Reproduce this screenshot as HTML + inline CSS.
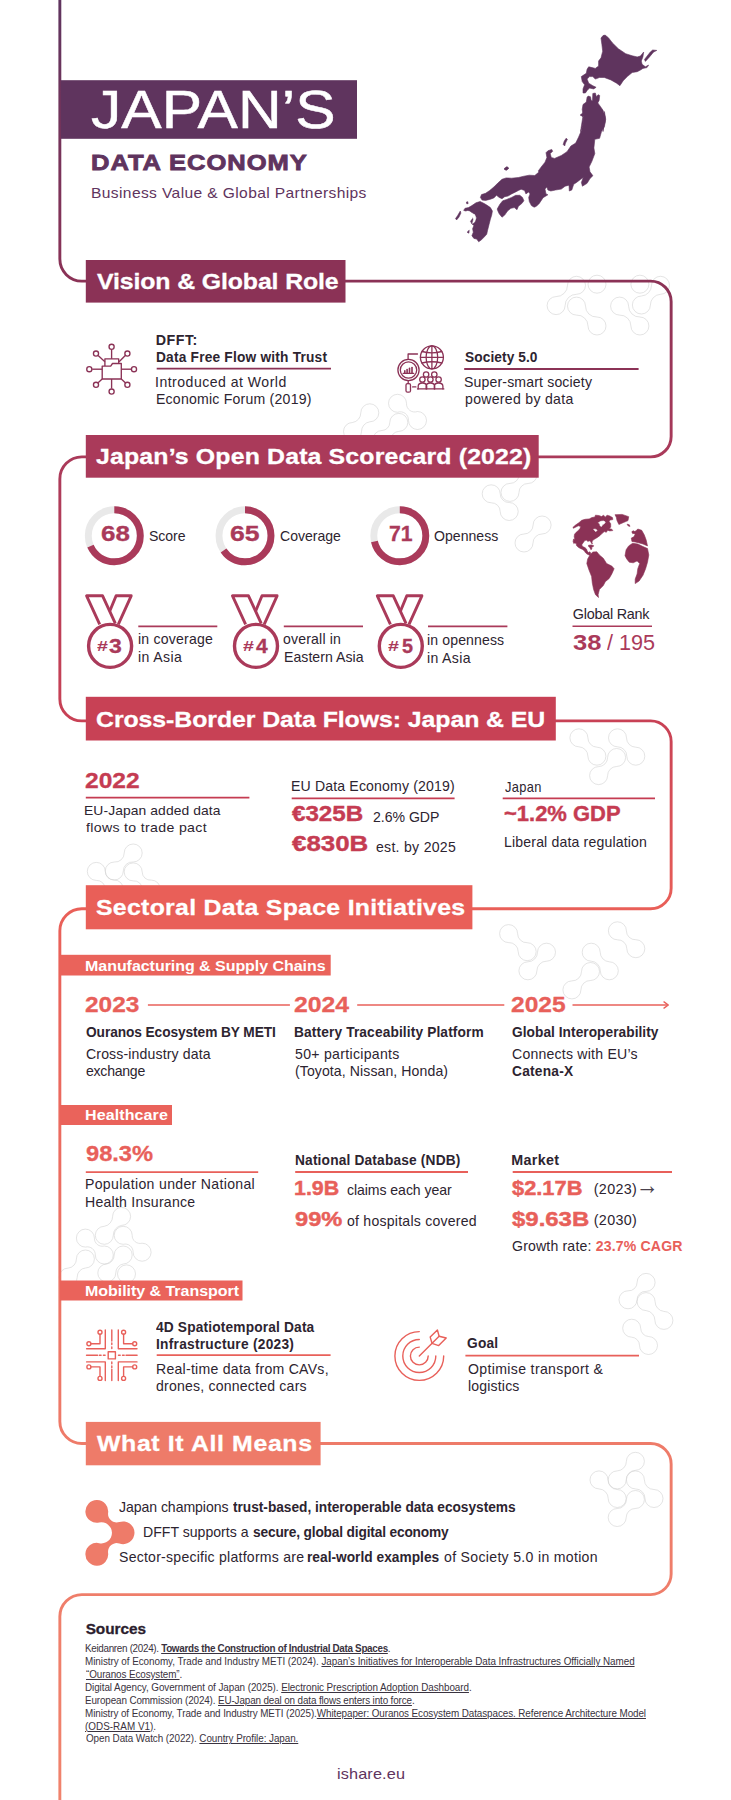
<!DOCTYPE html>
<html lang="en"><head><meta charset="utf-8">
<title>Japan’s Data Economy</title>
<style>
html,body{margin:0;padding:0;background:#fff;}
body{width:731px;height:1800px;position:relative;overflow:hidden;font-family:"Liberation Sans", sans-serif;}
#gfx{position:absolute;left:0;top:0;width:731px;height:1800px;}
.t{position:absolute;transform-origin:0 0;margin:0;padding:0;white-space:nowrap;line-height:1em;font-weight:400;}
.t b{font-weight:700;}
.t u{text-decoration-thickness:0.7px;text-underline-offset:1.2px;}
</style></head><body>
<svg id="gfx" viewBox="0 0 731 1800" width="731" height="1800">
<path d="M567.5,285.3 A11.3,11.3 0 0 1 556.1,296.6 A9.0,9.0 0 1 0 565.1,305.6 A11.3,11.3 0 0 1 576.5,294.3 A9.0,9.0 0 1 0 567.5,285.3Z M585.5,306.1 A10.9,10.9 0 0 0 597.0,317.0 A9.0,9.0 0 1 1 588.0,326.0 A10.9,10.9 0 0 0 576.5,315.1 A9.0,9.0 0 1 1 585.5,306.1Z M588.0,284.2 a9,9 0 1 0 18,0 a9,9 0 1 0 -18,0Z M628.6,306.1 A10.9,10.9 0 0 0 639.9,317.0 A9.0,9.0 0 1 1 630.9,326.0 A10.9,10.9 0 0 0 619.6,315.1 A9.0,9.0 0 1 1 628.6,306.1Z M630.9,284.2 a9,9 0 1 0 18,0 a9,9 0 1 0 -18,0Z M651.5,285.3 A10.7,10.7 0 0 1 641.4,296.0 A9.0,9.0 0 1 0 650.4,305.0 A10.7,10.7 0 0 1 660.5,294.3 A9.0,9.0 0 1 0 651.5,285.3Z M360.8,412.8 A9.7,9.7 0 0 1 352.5,422.5 A9.0,9.0 0 1 0 361.5,431.5 A9.7,9.7 0 0 1 369.8,421.8 A9.0,9.0 0 1 0 360.8,412.8Z M406.5,403.3 A8.2,8.2 0 0 0 417.5,411.5 A9.0,9.0 0 1 1 408.5,420.5 A8.2,8.2 0 0 0 397.5,412.3 A9.0,9.0 0 1 1 406.5,403.3Z M389.8,422.4 A8.1,8.1 0 0 1 382.0,430.5 A9.0,9.0 0 1 0 391.0,439.5 A8.1,8.1 0 0 1 398.8,431.4 A9.0,9.0 0 1 0 389.8,422.4Z M500.2,493.8 A8.7,8.7 0 0 0 509.2,502.5 A9.0,9.0 0 1 1 500.2,511.5 A8.7,8.7 0 0 0 491.2,502.8 A9.0,9.0 0 1 1 500.2,493.8Z M519.1,474.5 A8.9,8.9 0 0 1 510.0,483.4 A9.0,9.0 0 1 0 519.0,492.4 A8.9,8.9 0 0 1 528.1,483.5 A9.0,9.0 0 1 0 519.1,474.5Z M533.1,525.0 A9.0,9.0 0 0 1 524.0,534.0 A9.0,9.0 0 1 0 533.0,543.0 A9.0,9.0 0 0 1 542.1,534.0 A9.0,9.0 0 1 0 533.1,525.0Z M587.9,737.8 A9.4,9.4 0 0 0 596.9,747.2 A9.0,9.0 0 1 1 587.9,756.2 A9.4,9.4 0 0 0 578.9,746.8 A9.0,9.0 0 1 1 587.9,737.8Z M626.5,737.8 A9.4,9.4 0 0 0 635.8,747.2 A9.0,9.0 0 1 1 626.8,756.2 A9.4,9.4 0 0 0 617.5,746.8 A9.0,9.0 0 1 1 626.5,737.8Z M607.6,757.5 A9.1,9.1 0 0 1 598.6,766.6 A9.0,9.0 0 1 0 607.6,775.6 A9.1,9.1 0 0 1 616.6,766.5 A9.0,9.0 0 1 0 607.6,757.5Z M124.2,853.0 A9.0,9.0 0 0 1 114.3,862.0 A9.0,9.0 0 1 0 123.3,871.0 A9.0,9.0 0 0 1 133.2,862.0 A9.0,9.0 0 1 0 124.2,853.0Z M105.3,871.4 A8.6,8.6 0 0 0 114.3,880.0 A9.0,9.0 0 1 1 105.3,889.0 A8.6,8.6 0 0 0 96.3,880.4 A9.0,9.0 0 1 1 105.3,871.4Z M142.2,871.9 A8.2,8.2 0 0 0 151.3,880.1 A9.0,9.0 0 1 1 142.3,889.1 A8.2,8.2 0 0 0 133.2,880.9 A9.0,9.0 0 1 1 142.2,871.9Z M517.6,933.6 A9.1,9.1 0 0 0 527.2,942.7 A9.0,9.0 0 1 1 518.2,951.7 A9.1,9.1 0 0 0 508.6,942.6 A9.0,9.0 0 1 1 517.6,933.6Z M537.5,952.2 A9.6,9.6 0 0 1 527.9,961.8 A9.0,9.0 0 1 0 536.9,970.8 A9.6,9.6 0 0 1 546.5,961.2 A9.0,9.0 0 1 0 537.5,952.2Z M600.2,952.2 A9.6,9.6 0 0 0 609.3,961.8 A9.0,9.0 0 1 1 600.3,970.8 A9.6,9.6 0 0 0 591.2,961.2 A9.0,9.0 0 1 1 600.2,952.2Z M581.5,971.5 A9.4,9.4 0 0 1 571.9,980.9 A9.0,9.0 0 1 0 580.9,989.9 A9.4,9.4 0 0 1 590.5,980.5 A9.0,9.0 0 1 0 581.5,971.5Z M626.4,930.8 A8.9,8.9 0 0 0 635.8,939.7 A9.0,9.0 0 1 1 626.8,948.7 A8.9,8.9 0 0 0 617.4,939.8 A9.0,9.0 0 1 1 626.4,930.8Z M112.6,1216.4 A9.9,9.9 0 0 1 104.3,1226.3 A9.0,9.0 0 1 0 113.3,1235.3 A9.9,9.9 0 0 1 121.6,1225.4 A9.0,9.0 0 1 0 112.6,1216.4Z M94.4,1238.1 A7.9,7.9 0 0 0 104.3,1246.0 A9.0,9.0 0 1 1 95.3,1255.0 A7.9,7.9 0 0 0 85.4,1247.1 A9.0,9.0 0 1 1 94.4,1238.1Z M132.2,1235.3 A7.9,7.9 0 0 0 142.1,1243.2 A9.0,9.0 0 1 1 133.1,1252.2 A7.9,7.9 0 0 0 123.2,1244.3 A9.0,9.0 0 1 1 132.2,1235.3Z M114.2,1255.0 A9.0,9.0 0 0 1 106.8,1264.0 A9.0,9.0 0 1 0 115.8,1273.0 A9.0,9.0 0 0 1 123.2,1264.0 A9.0,9.0 0 1 0 114.2,1255.0Z M76.4,1259.0 A9.1,9.1 0 0 1 68.2,1268.1 A9.0,9.0 0 1 0 77.2,1277.1 A9.1,9.1 0 0 1 85.4,1268.0 A9.0,9.0 0 1 0 76.4,1259.0Z M117.5,1273.9 a9,9 0 1 0 18,0 a9,9 0 1 0 -18,0Z M637.1,1282.4 A8.4,8.4 0 0 1 628.0,1290.8 A9.0,9.0 0 1 0 637.0,1299.8 A8.4,8.4 0 0 1 646.1,1291.4 A9.0,9.0 0 1 0 637.1,1282.4Z M655.1,1301.6 A9.8,9.8 0 0 0 663.9,1311.4 A9.0,9.0 0 1 1 654.9,1320.4 A9.8,9.8 0 0 0 646.1,1310.6 A9.0,9.0 0 1 1 655.1,1301.6Z M640.7,1328.2 A8.3,8.3 0 0 0 648.5,1336.5 A9.0,9.0 0 1 1 639.5,1345.5 A8.3,8.3 0 0 0 631.7,1337.2 A9.0,9.0 0 1 1 640.7,1328.2Z M626.4,1461.3 A9.6,9.6 0 0 1 617.2,1470.9 A9.0,9.0 0 1 0 626.2,1479.9 A9.6,9.6 0 0 1 635.4,1470.3 A9.0,9.0 0 1 0 626.4,1461.3Z M608.0,1479.9 A9.6,9.6 0 0 0 617.2,1489.5 A9.0,9.0 0 1 1 608.2,1498.5 A9.6,9.6 0 0 0 599.0,1488.9 A9.0,9.0 0 1 1 608.0,1479.9Z M644.4,1479.9 A9.6,9.6 0 0 0 654.0,1489.5 A9.0,9.0 0 1 1 645.0,1498.5 A9.6,9.6 0 0 0 635.4,1488.9 A9.0,9.0 0 1 1 644.4,1479.9Z M626.4,1499.5 A9.0,9.0 0 0 1 617.2,1508.5 A9.0,9.0 0 1 0 626.2,1517.5 A9.0,9.0 0 0 1 635.4,1508.5 A9.0,9.0 0 1 0 626.4,1499.5Z" fill="none" stroke="#d2d2d2" stroke-width="0.6"/>
<defs><linearGradient id="sg" gradientUnits="userSpaceOnUse" x1="0" y1="0" x2="0" y2="1800"><stop offset="0" stop-color="#5f345e"/><stop offset="0.156" stop-color="#8b3256"/><stop offset="0.253" stop-color="#aa3a5a"/><stop offset="0.40" stop-color="#c84155"/><stop offset="0.504" stop-color="#e95f58"/><stop offset="0.80" stop-color="#ee7b69"/><stop offset="1" stop-color="#f0826c"/></linearGradient></defs>
<path d="M59.85,-5 V259.1 A22,22 0 0 0 81.85,281.1 H650.65 A20.5,20.5 0 0 1 671.15,301.6 V436.4 A20.5,20.5 0 0 1 650.65,456.9 H81.85 A22,22 0 0 0 59.85,478.9 V698.9 A22,22 0 0 0 81.85,720.9 H650.65 A20.5,20.5 0 0 1 671.15,741.4 V888.3 A20.5,20.5 0 0 1 650.65,908.8 H81.85 A22,22 0 0 0 59.85,930.8 V1421.5 A22,22 0 0 0 81.85,1443.5 H650.65 A20.5,20.5 0 0 1 671.15,1464.0 V1574.1 A20.5,20.5 0 0 1 650.65,1594.6 H81.85 A22,22 0 0 0 59.85,1616.6 V1810" fill="none" stroke="url(#sg)" stroke-width="2.9"/>
<rect x="61" y="80.2" width="296.0" height="58.6" fill="#5f345e"/>
<rect x="85.8" y="260" width="259.7" height="42.6" fill="#8b3256"/>
<rect x="85.8" y="435" width="452.9" height="42.7" fill="#aa3a5a"/>
<rect x="85.8" y="696.8" width="470.0" height="43.7" fill="#c84155"/>
<rect x="85.8" y="885.2" width="386.6" height="44.1" fill="#e95f58"/>
<rect x="85.8" y="1421.9" width="234.8" height="43.4" fill="#ee7b69"/>
<rect x="60" y="954.8" width="270.7" height="20.7" fill="#ea635b"/>
<rect x="60" y="1105" width="112.0" height="20.0" fill="#ea635b"/>
<rect x="60" y="1280.5" width="182.5" height="20.0" fill="#ea635b"/>
<path d="M605.1,35.1 L608.4,37.7 L612.5,43.0 L618.3,48.7 L625.7,53.7 L632.2,55.8 L637.2,56.9 L640.4,56.1 L643.7,52.0 L642.9,56.9 L641.3,61.0 L642.1,64.3 L645.4,66.8 L648.6,65.1 L647.0,67.6 L642.9,68.4 L640.4,70.1 L637.2,71.7 L632.2,72.5 L627.3,76.6 L623.2,80.7 L619.9,85.7 L616.6,83.2 L610.9,79.9 L604.3,77.5 L599.4,77.5 L595.3,79.1 L592.8,76.6 L589.5,76.6 L587.1,79.1 L588.7,83.2 L592.8,85.7 L596.1,87.3 L593.7,88.9 L589.5,88.1 L587.1,90.6 L585.4,93.0 L583.0,93.0 L583.0,88.9 L584.6,84.8 L582.2,81.6 L581.3,76.6 L586.3,73.3 L587.1,69.2 L588.7,66.8 L592.0,67.6 L595.3,68.4 L598.6,66.0 L598.6,61.0 L601.0,57.8 L602.7,51.2 L601.9,44.6 L601.0,38.1 L603.0,35.6Z" fill="#5f345e" stroke="#5f345e" stroke-width="0.6" stroke-linejoin="round"/>
<path d="M644.5,59.4 L650.3,52.0 L652.7,50.0 L656.8,50.4 L653.6,52.0 L649.5,56.9 L645.4,61.4Z" fill="#5f345e" stroke="#5f345e" stroke-width="0.6" stroke-linejoin="round"/>
<path d="M592.8,93.5 L595.3,93.0 L596.4,96.8 L598.1,94.7 L599.7,95.5 L599.1,100.4 L597.8,102.9 L600.2,106.2 L603.0,110.3 L605.1,116.8 L605.3,121.8 L603.7,126.7 L603.0,131.6 L604.4,111.5 L605.7,119.2 L604.4,126.8 L601.5,131.6 L599.6,138.3 L594.8,139.3 L593.9,147.9 L594.8,153.6 L591.9,161.3 L589.1,167.0 L590.0,171.8 L592.9,175.7 L590.0,178.5 L587.1,183.3 L582.4,186.2 L581.4,182.4 L583.3,177.6 L580.4,179.5 L576.6,182.4 L573.7,184.3 L571.8,190.0 L569.3,191.0 L569.0,185.2 L565.1,186.2 L561.3,189.1 L555.5,190.0 L550.8,191.0 L547.9,190.0 L546.9,187.1 L545.0,189.1 L546.0,193.9 L547.9,194.8 L543.1,197.7 L539.3,203.4 L536.4,206.3 L534.1,207.2 L531.4,205.6 L529.3,201.5 L528.7,197.4 L530.0,193.9 L528.7,191.9 L525.9,193.9 L524.6,190.5 L521.1,189.2 L518.4,190.5 L515.7,191.9 L511.6,193.9 L508.1,196.0 L504.7,196.7 L502.0,198.7 L499.2,197.4 L496.5,195.3 L493.8,198.0 L489.7,199.4 L485.6,200.4 L482.1,200.1 L480.4,197.4 L481.5,194.6 L485.6,193.3 L489.7,190.5 L493.8,187.1 L497.9,183.0 L502.0,179.3 L506.1,177.9 L511.6,178.2 L518.4,177.5 L523.9,176.2 L529.3,175.2 L534.8,175.5 L538.9,172.1 L538.3,170.9 L541.2,167.0 L545.0,162.2 L546.9,157.5 L546.0,152.7 L547.9,150.8 L551.7,149.4 L552.7,151.3 L550.2,153.6 L551.3,157.5 L554.6,158.4 L561.3,155.5 L567.0,151.7 L570.9,146.0 L575.7,143.1 L578.5,137.3 L581.4,130.6 L583.3,123.0 L583.9,117.2 L580.4,114.9 L582.7,113.0 L584.3,107.7 L580.5,131.6 L583.0,125.1 L583.8,116.8 L580.5,115.2 L583.0,113.6 L582.2,109.5 L583.0,104.5 L586.3,102.1 L587.1,97.2 L588.2,96.0 L590.5,96.8 L591.2,100.4 L592.5,100.8Z" fill="#5f345e" stroke="#5f345e" stroke-width="0.6" stroke-linejoin="round"/>
<path d="M497.2,209.0 L499.9,204.2 L502.7,200.8 L506.8,199.4 L511.6,197.4 L515.7,195.3 L519.8,195.3 L522.5,197.4 L523.9,200.8 L521.8,203.5 L518.4,206.3 L517.0,209.7 L514.3,207.6 L510.9,208.3 L507.5,211.0 L504.7,215.1 L502.0,217.2 L499.2,213.8 L497.9,211.0Z" fill="#5f345e" stroke="#5f345e" stroke-width="0.6" stroke-linejoin="round"/>
<path d="M476.0,202.8 L480.1,201.5 L484.2,203.5 L487.6,205.6 L490.4,207.6 L492.4,211.0 L491.7,215.1 L490.4,219.2 L489.0,224.7 L487.6,230.2 L486.7,234.3 L484.2,237.0 L481.5,239.8 L478.7,241.8 L476.7,239.1 L473.9,238.4 L471.9,235.7 L473.3,232.2 L472.6,228.8 L473.9,225.4 L471.9,224.0 L470.5,221.3 L472.6,218.6 L473.9,215.8 L472.6,213.1 L469.8,211.0 L467.8,210.4 L465.7,211.0 L463.7,210.4 L465.0,208.3 L468.5,207.6 L471.9,205.6Z" fill="#5f345e" stroke="#5f345e" stroke-width="0.6" stroke-linejoin="round"/>
<path d="M471.9,213.5 L474.6,214.5 L476.0,217.9 L474.6,222.0 L472.6,223.4 L473.5,219.2 L472.6,216.5Z" fill="#fff" stroke="#fff" stroke-width="0.6" stroke-linejoin="round"/>
<path d="M455.5,218.6 L457.5,215.8 L460.3,211.0 L460.9,213.1 L458.9,217.2 L456.6,219.9Z" fill="#5f345e" stroke="#5f345e" stroke-width="0.6" stroke-linejoin="round"/>
<path d="M466.4,202.1 L467.8,201.7 L468.1,203.7 L466.7,203.7Z" fill="#5f345e" stroke="#5f345e" stroke-width="0.6" stroke-linejoin="round"/>
<path d="M467.1,232.2 L469.2,230.2 L468.9,233.2Z" fill="#5f345e" stroke="#5f345e" stroke-width="0.6" stroke-linejoin="round"/>
<path d="M504.2,169.2 L507.0,166.9 L508.6,168.2 L506.1,170.3Z" fill="#5f345e" stroke="#5f345e" stroke-width="0.6" stroke-linejoin="round"/>
<path d="M564.2,141.2 L566.1,138.3 L567.4,139.3 L565.5,143.1 L564.7,146.0 L563.2,144.4Z" fill="#5f345e" stroke="#5f345e" stroke-width="0.6" stroke-linejoin="round"/>
<path d="M504.2,168.6 L506.9,166.7 L508.6,168.0 L506.7,170.1Z" fill="#5f345e" stroke="#5f345e" stroke-width="0.6" stroke-linejoin="round"/>
<line x1="156.7" y1="368.7" x2="331" y2="368.7" stroke="#8b3256" stroke-width="1.8"/>
<line x1="464.2" y1="369.0" x2="638.6" y2="369.0" stroke="#8b3256" stroke-width="1.8"/>
<g fill="none" stroke="#8b3256" stroke-width="1.35" stroke-linejoin="round"><circle cx="111.6" cy="346.8" r="2.55"/><circle cx="111.6" cy="391.5" r="2.55"/><circle cx="89.3" cy="369.2" r="2.55"/><circle cx="134.0" cy="369.2" r="2.55"/><circle cx="96.0" cy="353.5" r="2.55"/><circle cx="127.4" cy="353.5" r="2.55"/><circle cx="96.0" cy="384.8" r="2.55"/><circle cx="127.4" cy="384.8" r="2.55"/><line x1="111.6" y1="349.7" x2="111.6" y2="358.8"/><line x1="111.6" y1="379.0" x2="111.6" y2="388.6"/><line x1="92.2" y1="369.2" x2="102.2" y2="369.2"/><line x1="121.3" y1="369.2" x2="131.1" y2="369.2"/><line x1="98.1" y1="355.5" x2="104.9" y2="361.7"/><line x1="125.3" y1="355.5" x2="119.1" y2="361.7"/><line x1="98.1" y1="382.8" x2="102.2" y2="379.0"/><line x1="125.3" y1="382.8" x2="121.3" y2="379.0"/><path d="M102.2,366.1 L110.7,366.1 L112.5,363.5 L121.3,363.5 L121.3,379.0 L102.2,379.0Z"/><path d="M104.9,366.1 L104.9,358.8 L118.7,358.8 L118.7,363.5"/></g>
<g fill="none" stroke="#8b3256" stroke-width="1.3" stroke-linecap="round" stroke-linejoin="round"><circle cx="431.9" cy="357.3" r="11.5"/><ellipse cx="431.9" cy="357.3" rx="5.8" ry="11.5"/><line x1="431.9" y1="345.8" x2="431.9" y2="368.8"/><line x1="420.4" y1="357.3" x2="443.4" y2="357.3"/><path d="M422.0,351.5 Q431.9,354.1 441.8,351.5"/><path d="M422.0,363.0 Q431.9,360.5 441.8,363.0"/><circle cx="408.5" cy="370.0" r="10.6"/><circle cx="408.5" cy="370.0" r="8.2"/><rect x="406.0" y="383.6" width="4.5" height="8.6" rx="1.5"/><line x1="408.2" y1="380.7" x2="408.2" y2="383.6"/><path d="M408.1,359.2 L408.1,354.0 L417.5,354.0"/><line x1="412.6" y1="386.9" x2="415.9" y2="386.9"/><line x1="403.1" y1="373.3" x2="413.8" y2="373.3"/><line x1="404.8" y1="370.8" x2="404.8" y2="372.9" stroke-width="1.6"/><line x1="407.1" y1="369.6" x2="407.1" y2="372.9" stroke-width="1.6"/><line x1="409.5" y1="368.4" x2="409.5" y2="372.9" stroke-width="1.6"/><line x1="412.0" y1="367.6" x2="412.0" y2="372.9" stroke-width="1.6"/><circle cx="426.1" cy="374.5" r="2.7"/><circle cx="434.3" cy="374.5" r="2.7"/><circle cx="422.4" cy="379.5" r="2.7"/><path d="M418.2,388.9 V386.2 Q418.2,383.0 422.4,383.0 Q426.7,383.0 426.7,386.2 V388.9"/><circle cx="430.4" cy="379.5" r="2.7"/><path d="M426.1,388.9 V386.2 Q426.1,383.0 430.4,383.0 Q434.7,383.0 434.7,386.2 V388.9"/><circle cx="438.6" cy="379.5" r="2.7"/><path d="M434.3,388.9 V386.2 Q434.3,383.0 438.6,383.0 Q442.9,383.0 442.9,386.2 V388.9"/><line x1="417.5" y1="388.9" x2="443.8" y2="388.9"/></g>
<circle cx="114.3" cy="535.8" r="26.0" fill="none" stroke="#e9e9e9" stroke-width="6.9"/>
<circle cx="114.3" cy="535.8" r="26.0" fill="none" stroke="#aa3a5a" stroke-width="6.9" stroke-dasharray="111.09 163.36" transform="rotate(-90 114.3 535.8)"/>
<circle cx="245.0" cy="535.8" r="26.0" fill="none" stroke="#e9e9e9" stroke-width="6.9"/>
<circle cx="245.0" cy="535.8" r="26.0" fill="none" stroke="#aa3a5a" stroke-width="6.9" stroke-dasharray="106.19 163.36" transform="rotate(-90 245.0 535.8)"/>
<circle cx="399.8" cy="535.8" r="26.0" fill="none" stroke="#e9e9e9" stroke-width="6.9"/>
<circle cx="399.8" cy="535.8" r="26.0" fill="none" stroke="#aa3a5a" stroke-width="6.9" stroke-dasharray="115.99 163.36" transform="rotate(-90 399.8 535.8)"/>
<g fill="none" stroke="#aa3a5a" stroke-width="2.9" stroke-linejoin="round"><path d="M99.7,624.3 L86.6,595.8 L102.6,595.8 L115.3,623.3"/><path d="M109.7,611.2 L116.1,595.8 L131.2,595.8 L118.3,624.3"/><circle cx="110.1" cy="645.9" r="21.5" stroke-width="3.4" fill="#fff"/></g>
<line x1="138.3" y1="626.4" x2="217.3" y2="626.4" stroke="#aa3a5a" stroke-width="1.9"/>
<g fill="none" stroke="#aa3a5a" stroke-width="2.9" stroke-linejoin="round"><path d="M245.6,624.3 L232.5,595.8 L248.5,595.8 L261.2,623.3"/><path d="M255.6,611.2 L262.0,595.8 L277.1,595.8 L264.2,624.3"/><circle cx="256.0" cy="645.9" r="21.5" stroke-width="3.4" fill="#fff"/></g>
<line x1="283.8" y1="626.4" x2="363" y2="626.4" stroke="#aa3a5a" stroke-width="1.9"/>
<g fill="none" stroke="#aa3a5a" stroke-width="2.9" stroke-linejoin="round"><path d="M390.4,624.3 L377.3,595.8 L393.3,595.8 L406.0,623.3"/><path d="M400.4,611.2 L406.8,595.8 L421.9,595.8 L409.0,624.3"/><circle cx="400.8" cy="645.9" r="21.5" stroke-width="3.4" fill="#fff"/></g>
<line x1="428" y1="626.4" x2="507.4" y2="626.4" stroke="#aa3a5a" stroke-width="1.9"/>
<path d="M572.8,527.5 L575.5,525.1 L578.9,522.7 L581.7,520.3 L585.1,519.3 L589.2,518.9 L591.9,517.6 L595.0,516.9 L595.4,515.2 L598.8,515.5 L601.5,516.5 L603.6,515.2 L605.3,517.2 L607.0,515.2 L609.7,515.9 L612.5,517.6 L612.8,519.6 L610.4,520.0 L609.0,521.3 L610.7,523.7 L610.7,527.2 L609.0,528.5 L611.8,529.2 L612.8,530.6 L609.7,530.9 L607.7,530.2 L606.3,532.3 L604.3,531.6 L602.2,533.3 L600.1,535.4 L597.4,537.4 L594.7,539.1 L592.6,540.5 L591.9,542.2 L592.6,543.6 L591.6,543.6 L590.6,541.5 L589.2,540.8 L587.8,541.5 L586.5,540.1 L584.8,540.5 L583.0,542.9 L581.7,544.9 L582.7,546.6 L585.1,547.7 L586.5,549.0 L587.2,551.1 L588.5,552.5 L589.9,551.8 L590.9,553.5 L589.9,555.2 L587.8,554.5 L585.8,553.1 L584.4,551.1 L582.7,549.4 L580.3,548.4 L578.3,547.3 L576.5,545.6 L576.2,543.6 L574.8,542.9 L573.8,543.6 L573.1,541.5 L573.5,539.1 L574.8,539.5 L574.2,536.7 L574.5,534.3 L576.2,532.3 L578.3,530.6 L580.0,528.5 L580.7,526.5 L578.3,525.8 L575.5,527.2 L573.5,528.2Z" fill="#8b3256" stroke="#8b3256" stroke-width="0.6" stroke-linejoin="round"/>
<path d="M598.4,522.7 L600.8,521.3 L603.6,521.0 L605.3,522.0 L604.3,523.7 L602.5,524.8 L601.5,526.5 L600.1,525.8 L599.8,524.1Z" fill="#fff" stroke="#fff" stroke-width="0.6" stroke-linejoin="round"/>
<path d="M593.6,529.2 L595.4,529.2 L597.1,530.2 L596.0,531.6 L595.0,530.9Z" fill="#fff" stroke="#fff" stroke-width="0.6" stroke-linejoin="round"/>
<path d="M588.5,545.3 L591.3,544.9 L593.6,545.6 L593.3,546.6 L591.6,547.3 L591.9,549.0 L590.9,549.7 L589.9,547.7 L588.5,546.3Z" fill="#8b3256" stroke="#8b3256" stroke-width="0.6" stroke-linejoin="round"/>
<path d="M615.0,514.7 L622.2,514.4 L628.7,516.7 L628.0,520.6 L623.5,522.5 L618.9,524.5 L617.0,520.6 L616.3,517.3Z" fill="#8b3256" stroke="#8b3256" stroke-width="0.6" stroke-linejoin="round"/>
<path d="M631.9,532.3 L635.8,531.0 L637.8,529.0 L641.7,530.3 L644.3,534.9 L646.2,540.1 L647.5,545.9 L643.0,544.0 L638.4,542.7 L635.2,542.0 L631.9,541.4 L631.3,538.1 L633.9,536.8 L635.2,534.2Z" fill="#8b3256" stroke="#8b3256" stroke-width="0.6" stroke-linejoin="round"/>
<path d="M626.1,549.8 L628.7,545.9 L632.6,543.3 L637.8,544.0 L643.0,546.6 L647.5,548.5 L648.8,555.0 L647.5,562.2 L645.6,568.7 L643.0,575.2 L639.1,581.0 L635.2,583.6 L635.2,579.1 L637.1,573.9 L637.8,568.7 L639.7,563.5 L637.1,560.9 L633.2,562.8 L629.3,562.2 L626.7,558.9 L625.0,555.7Z" fill="#8b3256" stroke="#8b3256" stroke-width="0.6" stroke-linejoin="round"/>
<path d="M590.3,554.4 L592.9,552.0 L596.8,551.8 L599.4,555.0 L603.3,558.3 L606.6,563.5 L611.8,566.1 L614.1,568.7 L611.8,573.9 L609.2,578.4 L605.3,581.7 L603.3,585.6 L599.4,589.5 L598.1,594.7 L598.5,597.5 L595.5,594.7 L593.6,589.5 L592.3,583.0 L591.6,576.5 L589.0,570.0 L586.8,563.5 L587.7,558.9Z" fill="#8b3256" stroke="#8b3256" stroke-width="0.6" stroke-linejoin="round"/>
<path d="M627.1,524.2 L629.3,524.8 L630.0,526.4 L628.0,525.8Z" fill="#8b3256" stroke="#8b3256" stroke-width="0.6" stroke-linejoin="round"/>
<path d="M631.9,531.6 L633.6,530.7 L634.5,532.6 L632.8,533.8Z" fill="#8b3256" stroke="#8b3256" stroke-width="0.6" stroke-linejoin="round"/>
<line x1="572.5" y1="626.3" x2="652" y2="626.3" stroke="#aa3a5a" stroke-width="1.6"/>
<line x1="85.8" y1="797.6" x2="249.4" y2="797.6" stroke="#c53c52" stroke-width="1.8"/>
<line x1="291.7" y1="798.4" x2="454.6" y2="798.4" stroke="#c53c52" stroke-width="1.8"/>
<line x1="502.7" y1="798.4" x2="655" y2="798.4" stroke="#c53c52" stroke-width="1.8"/>
<line x1="147.9" y1="1004.9" x2="289.9" y2="1004.9" stroke="#e8605a" stroke-width="1.5"/>
<line x1="357.2" y1="1005.0" x2="504.3" y2="1005.0" stroke="#e8605a" stroke-width="1.5"/>
<line x1="572.5" y1="1005.0" x2="667.5" y2="1005.0" stroke="#e8605a" stroke-width="1.5"/>
<path d="M664.0,1001.9 L668.3,1005.0 L664.0,1008.1" fill="none" stroke="#e8605a" stroke-width="1.4" stroke-linecap="round" stroke-linejoin="round"/>
<line x1="85.8" y1="1172.2" x2="258.2" y2="1172.2" stroke="#e8605a" stroke-width="1.8"/>
<line x1="295.2" y1="1172" x2="468" y2="1172" stroke="#e8605a" stroke-width="1.8"/>
<line x1="512.7" y1="1172" x2="672" y2="1172" stroke="#e8605a" stroke-width="1.8"/>
<line x1="156.7" y1="1355.2" x2="330.6" y2="1355.2" stroke="#e8605a" stroke-width="1.8"/>
<line x1="465.4" y1="1355.7" x2="639" y2="1355.7" stroke="#e8605a" stroke-width="1.8"/>
<g fill="none" stroke="#e8605a" stroke-width="1.4" stroke-linecap="round" stroke-linejoin="round"><rect x="108.2" y="1351.7" width="7.2" height="7.2"/><path d="M86.6,1348.7 L105.3,1348.7 L105.3,1330.0"/><circle cx="100.0" cy="1332.2" r="2.0"/><circle cx="88.9" cy="1343.7" r="2.0"/><path d="M100.0,1334.3 L100.0,1343.7 L91.0,1343.7"/><path d="M137.0,1348.7 L118.3,1348.7 L118.3,1330.0"/><circle cx="123.6" cy="1332.2" r="2.0"/><circle cx="134.7" cy="1343.7" r="2.0"/><path d="M123.6,1334.3 L123.6,1343.7 L132.6,1343.7"/><path d="M86.6,1361.9 L105.3,1361.9 L105.3,1380.6"/><circle cx="100.0" cy="1378.4" r="2.0"/><circle cx="88.9" cy="1366.9" r="2.0"/><path d="M100.0,1376.3 L100.0,1366.9 L91.0,1366.9"/><path d="M137.0,1361.9 L118.3,1361.9 L118.3,1380.6"/><circle cx="123.6" cy="1378.4" r="2.0"/><circle cx="134.7" cy="1366.9" r="2.0"/><path d="M123.6,1376.3 L123.6,1366.9 L132.6,1366.9"/><line x1="111.8" y1="1330.0" x2="111.8" y2="1341.1"/><line x1="111.8" y1="1342.9" x2="111.8" y2="1344.6"/><line x1="111.8" y1="1346.9" x2="111.8" y2="1348.6"/><line x1="111.8" y1="1380.6" x2="111.8" y2="1369.5"/><line x1="111.8" y1="1367.7" x2="111.8" y2="1366.0"/><line x1="111.8" y1="1363.7" x2="111.8" y2="1362.0"/><line x1="86.5" y1="1355.3" x2="97.6" y2="1355.3"/><line x1="99.4" y1="1355.3" x2="101.1" y2="1355.3"/><line x1="103.4" y1="1355.3" x2="105.1" y2="1355.3"/><line x1="137.1" y1="1355.3" x2="126.0" y2="1355.3"/><line x1="124.2" y1="1355.3" x2="122.5" y2="1355.3"/><line x1="120.2" y1="1355.3" x2="118.5" y2="1355.3"/></g>
<g fill="none" stroke="#e8605a" stroke-width="1.4" stroke-linecap="round" stroke-linejoin="round"><path d="M419.3,1331.6 A24.4,24.4 0 1 0 443.7,1356.0"/><path d="M419.3,1339.5 A16.5,16.5 0 1 0 435.8,1356.0"/><path d="M419.3,1347.1 A8.9,8.9 0 1 0 428.2,1356.0"/><line x1="419.3" y1="1356.0" x2="439.1" y2="1336.2"/><path d="M430.2,1337.1 L437.4,1330.0 L439.1,1336.2 L446.2,1338.0 L438.7,1345.6 L432.0,1343.3Z"/></g>
<path d="M108.09,1513.00 A8.60,8.60 0 0 0 119.34,1522.04 A11.4,11.4 0 1 1 119.34,1543.56 A8.61,8.61 0 0 0 108.08,1552.65 A11.4,11.4 0 1 1 99.19,1543.15 A10.54,10.54 0 1 0 99.19,1522.55 A11.4,11.4 0 1 1 108.09,1513.00Z" fill="#ee7b69"/>
</svg>
<h1 class="t" style="left:90.87px;top:82.97px;font-size:54.5px;color:#fff;letter-spacing:0.042px;transform:scaleX(1.1100);-webkit-text-stroke:0.5px #fff;">JAPAN’S</h1>
<div class="t" style="left:91.23px;top:152.67px;font-size:21.3px;color:#5f345e;font-weight:700;letter-spacing:0.789px;transform:scaleX(1.2000);-webkit-text-stroke:0.8px #5f345e;">DATA ECONOMY</div>
<div class="t" style="left:91.23px;top:186.08px;font-size:14.2px;color:#5f345e;letter-spacing:0.334px;transform:scaleX(1.1000);">Business Value &amp; Global Partnerships</div>
<h2 class="t" style="left:96.50px;top:270.00px;font-size:22.8px;color:#fff;font-weight:700;letter-spacing:-0.110px;transform:scaleX(1.0900);-webkit-text-stroke:0.3px #fff;">Vision &amp; Global Role</h2>
<h2 class="t" style="left:95.83px;top:445.00px;font-size:22.8px;color:#fff;font-weight:700;letter-spacing:0.149px;transform:scaleX(1.0900);-webkit-text-stroke:0.3px #fff;">Japan’s Open Data Scorecard (2022)</h2>
<h2 class="t" style="left:95.50px;top:707.60px;font-size:22.8px;color:#fff;font-weight:700;letter-spacing:-0.060px;transform:scaleX(1.0900);-webkit-text-stroke:0.3px #fff;">Cross-Border Data Flows: Japan &amp; EU</h2>
<h2 class="t" style="left:96.17px;top:896.40px;font-size:22.8px;color:#fff;font-weight:700;letter-spacing:0.266px;transform:scaleX(1.0900);-webkit-text-stroke:0.3px #fff;">Sectoral Data Space Initiatives</h2>
<h2 class="t" style="left:96.50px;top:1431.70px;font-size:22.8px;color:#fff;font-weight:700;letter-spacing:0.584px;transform:scaleX(1.0900);-webkit-text-stroke:0.3px #fff;">What It All Means</h2>
<h3 class="t" style="left:84.80px;top:958.50px;font-size:14.3px;color:#fff;font-weight:700;letter-spacing:-0.042px;transform:scaleX(1.1200);">Manufacturing &amp; Supply Chains</h3>
<h3 class="t" style="left:84.80px;top:1108.10px;font-size:14.3px;color:#fff;font-weight:700;letter-spacing:0.096px;transform:scaleX(1.1200);">Healthcare</h3>
<h3 class="t" style="left:84.80px;top:1283.90px;font-size:14.3px;color:#fff;font-weight:700;letter-spacing:-0.036px;transform:scaleX(1.1200);">Mobility &amp; Transport</h3>
<div class="t" style="left:155.77px;top:333.20px;font-size:14.3px;color:#2d2430;letter-spacing:0.466px;"><b>DFFT:</b></div>
<div class="t" style="left:156.10px;top:350.20px;font-size:14.3px;color:#2d2430;letter-spacing:0.206px;transform:scaleX(0.9600);"><b>Data Free Flow with Trust</b></div>
<div class="t" style="left:155.43px;top:374.80px;font-size:14.3px;color:#2d2430;letter-spacing:0.488px;transform:scaleX(0.9850);">Introduced at World</div>
<div class="t" style="left:156.10px;top:392.40px;font-size:14.3px;color:#2d2430;letter-spacing:0.222px;transform:scaleX(0.9850);">Economic Forum (2019)</div>
<div class="t" style="left:464.73px;top:350.20px;font-size:14.3px;color:#2d2430;letter-spacing:0.078px;transform:scaleX(0.9600);"><b>Society 5.0</b></div>
<div class="t" style="left:464.07px;top:374.90px;font-size:14.3px;color:#2d2430;letter-spacing:0.153px;transform:scaleX(0.9850);">Super-smart society</div>
<div class="t" style="left:464.50px;top:392.20px;font-size:14.3px;color:#2d2430;letter-spacing:0.300px;transform:scaleX(0.9850);">powered by data</div>
<div class="t" style="left:100.57px;top:524.47px;font-size:21.3px;color:#aa3a5a;font-weight:700;transform:scaleX(1.2190);-webkit-text-stroke:0.3px #aa3a5a;">68</div>
<div class="t" style="left:149.07px;top:529.40px;font-size:14.3px;color:#2d2430;letter-spacing:-0.067px;transform:scaleX(0.9850);">Score</div>
<div class="t" style="left:230.47px;top:524.47px;font-size:21.3px;color:#aa3a5a;font-weight:700;transform:scaleX(1.2479);-webkit-text-stroke:0.3px #aa3a5a;">65</div>
<div class="t" style="left:279.67px;top:529.40px;font-size:14.3px;color:#2d2430;letter-spacing:-0.034px;transform:scaleX(0.9850);">Coverage</div>
<div class="t" style="left:388.67px;top:524.47px;font-size:21.3px;color:#aa3a5a;font-weight:700;transform:scaleX(0.9937);-webkit-text-stroke:0.3px #aa3a5a;">71</div>
<div class="t" style="left:433.87px;top:529.40px;font-size:14.3px;color:#2d2430;letter-spacing:0.013px;transform:scaleX(0.9850);">Openness</div>
<div class="t" style="left:97.28px;top:638.63px;font-size:14.5px;color:#aa3a5a;font-weight:700;transform:scaleX(1.3541);">#</div>
<div class="t" style="left:109.33px;top:635.12px;font-size:21.0px;color:#aa3a5a;font-weight:700;transform:scaleX(1.0923);-webkit-text-stroke:0.3px #aa3a5a;">3</div>
<div class="t" style="left:138.10px;top:632.40px;font-size:14.3px;color:#2d2430;letter-spacing:0.212px;transform:scaleX(0.9850);">in coverage</div>
<div class="t" style="left:138.10px;top:649.60px;font-size:14.3px;color:#2d2430;letter-spacing:0.385px;transform:scaleX(0.9850);">in Asia</div>
<div class="t" style="left:242.98px;top:638.63px;font-size:14.5px;color:#aa3a5a;font-weight:700;transform:scaleX(1.3541);">#</div>
<div class="t" style="left:255.70px;top:635.12px;font-size:21.0px;color:#aa3a5a;font-weight:700;transform:scaleX(1.0013);-webkit-text-stroke:0.3px #aa3a5a;">4</div>
<div class="t" style="left:283.27px;top:632.40px;font-size:14.3px;color:#2d2430;letter-spacing:0.174px;transform:scaleX(0.9850);">overall in</div>
<div class="t" style="left:283.60px;top:649.60px;font-size:14.3px;color:#2d2430;letter-spacing:0.039px;transform:scaleX(0.9850);">Eastern Asia</div>
<div class="t" style="left:388.38px;top:638.63px;font-size:14.5px;color:#aa3a5a;font-weight:700;transform:scaleX(1.3542);">#</div>
<div class="t" style="left:402.10px;top:635.12px;font-size:21.0px;color:#aa3a5a;font-weight:700;transform:scaleX(0.9431);-webkit-text-stroke:0.3px #aa3a5a;">5</div>
<div class="t" style="left:427.20px;top:633.40px;font-size:14.3px;color:#2d2430;letter-spacing:0.120px;transform:scaleX(0.9850);">in openness</div>
<div class="t" style="left:427.20px;top:650.60px;font-size:14.3px;color:#2d2430;letter-spacing:0.334px;transform:scaleX(0.9850);">in Asia</div>
<div class="t" style="left:572.83px;top:607.21px;font-size:14.4px;color:#2d2430;letter-spacing:-0.254px;">Global Rank</div>
<div class="t" style="left:572.67px;top:632.05px;font-size:22.5px;color:#aa3a5a;font-weight:700;transform:scaleX(1.1347);">38</div>
<div class="t" style="left:606.50px;top:632.05px;font-size:22.5px;color:#aa3a5a;transform:scaleX(0.9595);">/ 195</div>
<div class="t" style="left:84.77px;top:769.88px;font-size:22.0px;color:#c53c52;font-weight:700;transform:scaleX(1.1169);-webkit-text-stroke:0.3px #c53c52;">2022</div>
<div class="t" style="left:84.40px;top:804.39px;font-size:13.6px;color:#2d2430;letter-spacing:0.087px;transform:scaleX(1.0200);">EU-Japan added data</div>
<div class="t" style="left:85.73px;top:821.39px;font-size:13.6px;color:#2d2430;letter-spacing:0.313px;transform:scaleX(1.0400);">flows to trade pact</div>
<div class="t" style="left:291.10px;top:779.20px;font-size:14.3px;color:#2d2430;letter-spacing:0.155px;transform:scaleX(0.9850);">EU Data Economy (2019)</div>
<div class="t" style="left:292.10px;top:802.62px;font-size:22.3px;color:#c53c52;font-weight:700;transform:scaleX(1.0835);-webkit-text-stroke:0.4px #c53c52;">€325B</div>
<div class="t" style="left:373.47px;top:809.50px;font-size:14.3px;color:#2d2430;letter-spacing:-0.024px;transform:scaleX(0.9850);">2.6% GDP</div>
<div class="t" style="left:292.10px;top:832.62px;font-size:22.3px;color:#c53c52;font-weight:700;transform:scaleX(1.1602);-webkit-text-stroke:0.4px #c53c52;">€830B</div>
<div class="t" style="left:376.17px;top:839.80px;font-size:14.3px;color:#2d2430;letter-spacing:0.283px;transform:scaleX(0.9850);">est. by 2025</div>
<div class="t" style="left:505.13px;top:779.50px;font-size:14.3px;color:#2d2430;letter-spacing:0.397px;transform:scaleX(0.9000);">Japan</div>
<div class="t" style="left:504.47px;top:802.82px;font-size:22.3px;color:#c53c52;font-weight:700;transform:scaleX(0.9850);-webkit-text-stroke:0.4px #c53c52;">~1.2% GDP</div>
<div class="t" style="left:504.40px;top:835.10px;font-size:14.3px;color:#2d2430;letter-spacing:0.165px;transform:scaleX(0.9850);">Liberal data regulation</div>
<div class="t" style="left:84.77px;top:993.00px;font-size:22.8px;color:#e8605a;font-weight:700;transform:scaleX(1.0713);-webkit-text-stroke:0.3px #e8605a;">2023</div>
<div class="t" style="left:294.47px;top:993.00px;font-size:22.8px;color:#e8605a;font-weight:700;transform:scaleX(1.0872);-webkit-text-stroke:0.3px #e8605a;">2024</div>
<div class="t" style="left:510.97px;top:993.00px;font-size:22.8px;color:#e8605a;font-weight:700;transform:scaleX(1.0757);-webkit-text-stroke:0.3px #e8605a;">2025</div>
<div class="t" style="left:85.67px;top:1024.50px;font-size:14.3px;color:#2d2430;letter-spacing:-0.090px;transform:scaleX(0.9600);"><b>Ouranos Ecosystem BY METI</b></div>
<div class="t" style="left:85.67px;top:1046.60px;font-size:14.3px;color:#2d2430;letter-spacing:0.145px;transform:scaleX(0.9850);">Cross-industry data</div>
<div class="t" style="left:85.67px;top:1064.10px;font-size:14.3px;color:#2d2430;letter-spacing:-0.264px;transform:scaleX(0.9850);">exchange</div>
<div class="t" style="left:294.40px;top:1024.50px;font-size:14.3px;color:#2d2430;letter-spacing:0.134px;transform:scaleX(0.9600);"><b>Battery Traceability Platform</b></div>
<div class="t" style="left:295.07px;top:1046.60px;font-size:14.3px;color:#2d2430;letter-spacing:0.303px;transform:scaleX(0.9850);">50+ participants</div>
<div class="t" style="left:295.20px;top:1064.10px;font-size:14.3px;color:#2d2430;letter-spacing:0.089px;transform:scaleX(0.9850);">(Toyota, Nissan, Honda)</div>
<div class="t" style="left:511.57px;top:1024.50px;font-size:14.3px;color:#2d2430;letter-spacing:0.036px;transform:scaleX(0.9600);"><b>Global Interoperability</b></div>
<div class="t" style="left:511.57px;top:1046.60px;font-size:14.3px;color:#2d2430;letter-spacing:0.222px;transform:scaleX(0.9850);">Connects with EU’s</div>
<div class="t" style="left:511.57px;top:1064.10px;font-size:14.3px;color:#2d2430;letter-spacing:0.257px;transform:scaleX(0.9600);"><b>Catena-X</b></div>
<div class="t" style="left:85.67px;top:1143.47px;font-size:22.6px;color:#e8605a;font-weight:700;transform:scaleX(1.0464);-webkit-text-stroke:0.3px #e8605a;">98.3%</div>
<div class="t" style="left:85.00px;top:1177.40px;font-size:14.3px;color:#2d2430;letter-spacing:0.324px;transform:scaleX(0.9850);">Population under National</div>
<div class="t" style="left:85.00px;top:1195.10px;font-size:14.3px;color:#2d2430;letter-spacing:0.246px;transform:scaleX(0.9850);">Health Insurance</div>
<div class="t" style="left:294.60px;top:1153.00px;font-size:14.3px;color:#2d2430;letter-spacing:0.176px;transform:scaleX(0.9600);"><b>National Database (NDB)</b></div>
<div class="t" style="left:294.20px;top:1177.42px;font-size:21.0px;color:#e8605a;font-weight:700;transform:scaleX(1.0195);-webkit-text-stroke:0.45px #e8605a;">1.9B</div>
<div class="t" style="left:346.67px;top:1182.90px;font-size:14.3px;color:#2d2430;letter-spacing:-0.068px;transform:scaleX(0.9850);">claims each year</div>
<div class="t" style="left:294.87px;top:1208.22px;font-size:21.0px;color:#e8605a;font-weight:700;transform:scaleX(1.1251);-webkit-text-stroke:0.45px #e8605a;">99%</div>
<div class="t" style="left:346.67px;top:1213.60px;font-size:14.3px;color:#2d2430;letter-spacing:0.235px;transform:scaleX(0.9850);">of hospitals covered</div>
<div class="t" style="left:511.23px;top:1152.80px;font-size:14.3px;color:#2d2430;letter-spacing:0.348px;"><b>Market</b></div>
<div class="t" style="left:511.90px;top:1176.92px;font-size:21.0px;color:#e8605a;font-weight:700;transform:scaleX(1.0402);-webkit-text-stroke:0.45px #e8605a;">$2.17B</div>
<div class="t" style="left:593.80px;top:1182.20px;font-size:14.3px;color:#2d2430;letter-spacing:0.314px;">(2023)</div>
<div class="t" style="left:635.90px;top:1171.79px;font-size:26.0px;color:#4a424d;transform:scaleX(0.8800);">→</div>
<div class="t" style="left:511.90px;top:1207.52px;font-size:21.0px;color:#e8605a;font-weight:700;transform:scaleX(1.1406);-webkit-text-stroke:0.45px #e8605a;">$9.63B</div>
<div class="t" style="left:593.80px;top:1213.00px;font-size:14.3px;color:#2d2430;letter-spacing:0.314px;">(2030)</div>
<div class="t" style="left:511.57px;top:1238.60px;font-size:14.3px;color:#2d2430;letter-spacing:0.175px;transform:scaleX(0.9850);">Growth rate: <b style="color:#e8605a">23.7% CAGR</b></div>
<div class="t" style="left:156.43px;top:1320.10px;font-size:14.3px;color:#2d2430;letter-spacing:0.170px;transform:scaleX(0.9600);"><b>4D Spatiotemporal Data</b></div>
<div class="t" style="left:156.10px;top:1336.90px;font-size:14.3px;color:#2d2430;letter-spacing:0.270px;transform:scaleX(0.9600);"><b>Infrastructure (2023)</b></div>
<div class="t" style="left:156.10px;top:1362.20px;font-size:14.3px;color:#2d2430;letter-spacing:0.259px;transform:scaleX(0.9850);">Real-time data from CAVs,</div>
<div class="t" style="left:155.77px;top:1379.40px;font-size:14.3px;color:#2d2430;letter-spacing:0.202px;transform:scaleX(0.9850);">drones, connected cars</div>
<div class="t" style="left:467.07px;top:1336.00px;font-size:14.3px;color:#2d2430;letter-spacing:0.216px;transform:scaleX(0.9600);"><b>Goal</b></div>
<div class="t" style="left:467.57px;top:1362.20px;font-size:14.3px;color:#2d2430;letter-spacing:0.355px;transform:scaleX(0.9850);">Optimise transport &amp;</div>
<div class="t" style="left:468.10px;top:1378.50px;font-size:14.3px;color:#2d2430;letter-spacing:0.165px;transform:scaleX(0.9850);">logistics</div>
<div class="t" style="left:119.23px;top:1500.00px;font-size:14.3px;color:#2d2430;letter-spacing:-0.065px;transform:scaleX(0.9850);">Japan champions</div>
<div class="t" style="left:232.80px;top:1500.00px;font-size:14.3px;color:#2d2430;letter-spacing:-0.028px;transform:scaleX(0.9600);"><b>trust-based, interoperable data ecosystems</b></div>
<div class="t" style="left:142.70px;top:1525.00px;font-size:14.3px;color:#2d2430;letter-spacing:0.005px;transform:scaleX(0.9850);">DFFT supports a</div>
<div class="t" style="left:252.57px;top:1525.00px;font-size:14.3px;color:#2d2430;letter-spacing:-0.176px;transform:scaleX(0.9600);"><b>secure, global digital economy</b></div>
<div class="t" style="left:118.57px;top:1550.00px;font-size:14.3px;color:#2d2430;letter-spacing:0.240px;transform:scaleX(0.9850);">Sector-specific platforms are</div>
<div class="t" style="left:306.70px;top:1550.00px;font-size:14.3px;color:#2d2430;letter-spacing:0.011px;transform:scaleX(0.9600);"><b>real-world examples</b></div>
<div class="t" style="left:443.57px;top:1550.00px;font-size:14.3px;color:#2d2430;letter-spacing:0.318px;transform:scaleX(0.9850);">of Society 5.0 in motion</div>
<div class="t" style="left:85.67px;top:1621.16px;font-size:15.4px;color:#2b1d2e;font-weight:700;letter-spacing:-0.047px;-webkit-text-stroke:0.3px #2b1d2e;">Sources</div>
<div class="t" style="left:85.07px;top:1644.30px;font-size:10.4px;color:#3a3340;letter-spacing:-0.328px;transform:scaleX(0.9500);">Keidanren (2024). <u><b>Towards the Construction of Industrial Data Spaces</b></u>.</div>
<div class="t" style="left:85.07px;top:1657.20px;font-size:10.4px;color:#3a3340;letter-spacing:-0.051px;transform:scaleX(0.9500);">Ministry of Economy, Trade and Industry METI (2024). <u>Japan’s Initiatives for Interoperable Data Infrastructures Officially Named</u></div>
<div class="t" style="left:85.73px;top:1670.00px;font-size:10.4px;color:#3a3340;letter-spacing:-0.107px;transform:scaleX(0.9500);"><u>“Ouranos Ecosystem”</u>.</div>
<div class="t" style="left:85.07px;top:1682.90px;font-size:10.4px;color:#3a3340;letter-spacing:-0.067px;transform:scaleX(0.9500);">Digital Agency, Government of Japan (2025). <u>Electronic Prescription Adoption Dashboard</u>.</div>
<div class="t" style="left:85.07px;top:1695.80px;font-size:10.4px;color:#3a3340;letter-spacing:-0.136px;transform:scaleX(0.9500);">European Commission (2024). <u>EU-Japan deal on data flows enters into force</u>.</div>
<div class="t" style="left:85.07px;top:1708.70px;font-size:10.4px;color:#3a3340;letter-spacing:-0.091px;transform:scaleX(0.9500);">Ministry of Economy, Trade and Industry METI (2025).<u>Whitepaper: Ouranos Ecosystem Dataspaces. Reference Architecture Model</u></div>
<div class="t" style="left:85.07px;top:1721.50px;font-size:10.4px;color:#3a3340;letter-spacing:0.030px;transform:scaleX(0.9500);"><u>(ODS-RAM V1)</u>.</div>
<div class="t" style="left:85.73px;top:1734.40px;font-size:10.4px;color:#3a3340;letter-spacing:-0.067px;transform:scaleX(0.9500);">Open Data Watch (2022). <u>Country Profile: Japan.</u></div>
<div class="t" style="left:336.50px;top:1766.97px;font-size:14.8px;color:#5f345e;letter-spacing:0.114px;transform:scaleX(1.1000);">ishare.eu</div>
</body></html>
